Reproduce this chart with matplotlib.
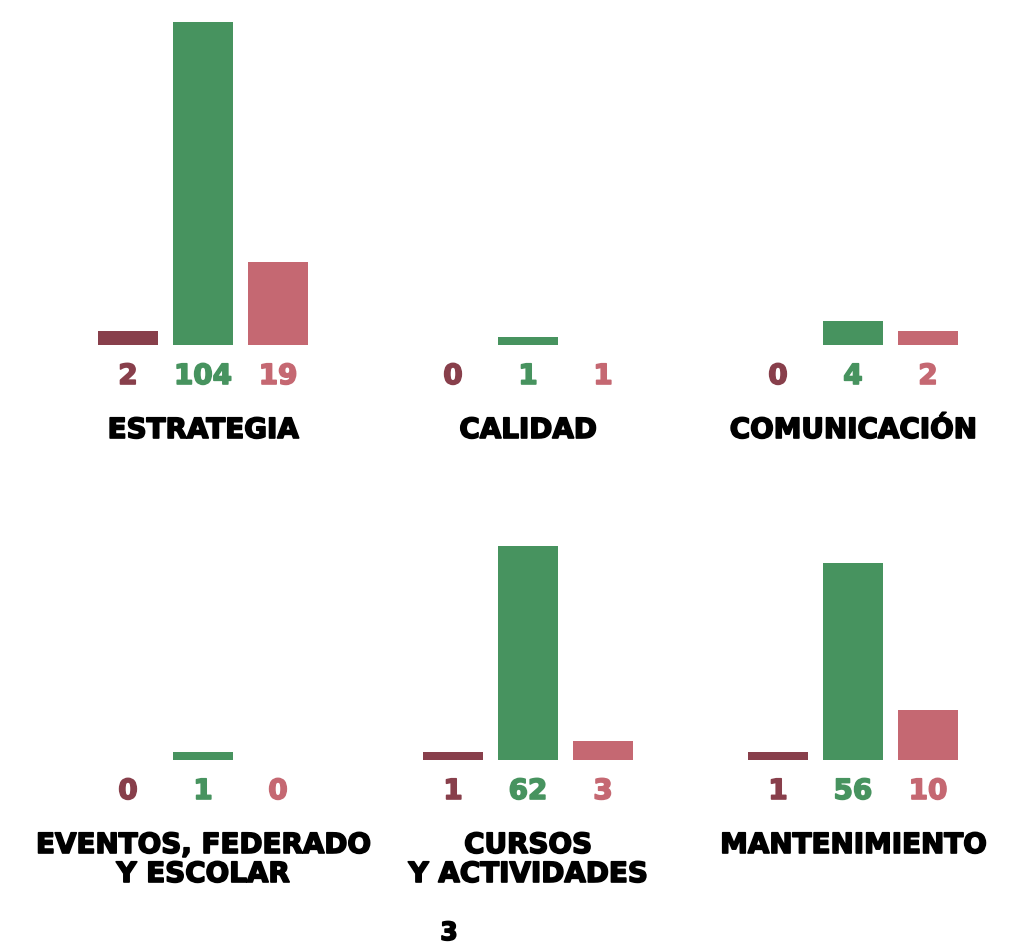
import numpy as np
import matplotlib
matplotlib.use("Agg")
import matplotlib.pyplot as plt
import matplotlib.patheffects as pe

categories = ["ESTRATEGIA", "CALIDAD", "COMUNICACIÓN",
              "EVENTOS, FEDERADO\nY ESCOLAR", "CURSOS\nY ACTIVIDADES", "MANTENIMIENTO"]
dark = [2, 0, 0, 0, 1, 1]
green = [104, 1, 4, 1, 62, 56]
pink = [19, 1, 2, 0, 3, 10]
# bars as drawn in the picture (no pink bar shows for CALIDAD)
pink_bars = [19, 0, 2, 0, 3, 10]

c_dark = "#883f4b"
c_green = "#47935f"
c_pink = "#c56872"

W, H = 1018, 947
fig = plt.figure(figsize=(W / 100, H / 100), dpi=100)

def fwd(v):
    v = np.asarray(v, dtype=float)
    return np.sign(v) * np.abs(v) ** 0.8

def inv(v):
    v = np.asarray(v, dtype=float)
    return np.sign(v) * np.abs(v) ** 1.25

baselines = [345, 760]   # px from top
px = 72 / 100            # px -> points

def heavy(c):
    return [pe.withStroke(linewidth=1.2, foreground=c)]

for i, cat in enumerate(categories):
    row, col = divmod(i, 3)
    left = 40.5 + 325 * col
    bottom = H - baselines[row]
    ax = fig.add_axes([left / W, bottom / H, 325 / W, 333 / H])
    ax.set_yscale("function", functions=(fwd, inv))
    ax.set_ylim(0, 108)
    ax.set_xlim(1 - 2.1667, 1 + 2.1667)
    ax.axis("off")

    heights = [dark[i], green[i], pink_bars[i]]
    ax.bar([0, 1, 2], heights, width=0.813, color=[c_dark, c_green, c_pink])

    for x, v, c in zip([0, 1, 2], [dark[i], green[i], pink[i]], [c_dark, c_green, c_pink]):
        ax.annotate(str(v), xy=(x, 0), xytext=(0, -39 * px), textcoords="offset points",
                    ha="center", va="baseline", fontsize=20, fontweight="bold",
                    color=c, annotation_clip=False, path_effects=heavy(c))

    for k, line in enumerate(cat.split("\n")):
        ax.annotate(line, xy=(1, 0), xytext=(0, -(93 + 29 * k) * px), textcoords="offset points",
                    ha="center", va="baseline", fontsize=20, fontweight="bold",
                    color="black", annotation_clip=False, path_effects=heavy("black"))

fig.text(449 / W, (H - 940) / H, "3", ha="center", va="baseline",
         fontsize=18, fontweight="bold", color="black", path_effects=heavy("black"))

fig.savefig("out.png", dpi=100, facecolor="white")
